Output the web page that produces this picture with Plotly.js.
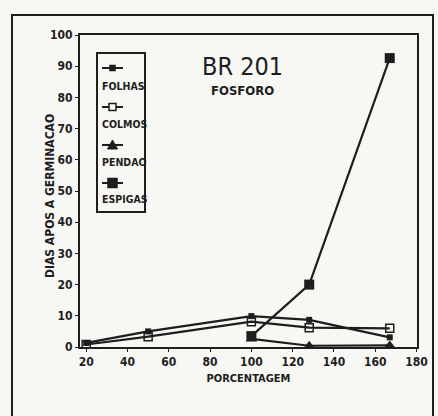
<!DOCTYPE html>
<html>
<head>
<meta charset="utf-8">
<script src="https://cdn.plot.ly/plotly-3.0.1.min.js"></script>
<style>
html,body{margin:0;padding:0;background:#f7f7f4;}
#chart{width:438px;height:416px;}
</style>
</head>
<body>
<div id="chart"></div>
<script>
// Data
const xPct = [20, 50, 100, 128, 167];
const folhas = [1.3, 5.0, 9.9, 8.7, 3.1];
const colmos = [0.8, 3.3, 8.1, 6.2, 6.0];
const pendaoX = [100, 128, 167];
const pendao = [2.6, 0.4, 0.5];
const espigasX = [100, 128, 167];
const espigas = [3.5, 20, 92.6];
const seriesNames = ["FOLHAS", "COLMOS", "PENDAO", "ESPIGAS"];
const xTicks = [20, 40, 60, 80, 100, 120, 140, 160, 180];
const yTicks = [0, 10, 20, 30, 40, 50, 60, 70, 80, 90, 100];

const ink = "#1e1e1e";
const fam = "Liberation Sans Narrow, DejaVu Sans Condensed, Arial Narrow, sans-serif";
const line = {color: ink, width: 2.2};

const traces = [
  {x: xPct, y: folhas, name: seriesNames[0], mode: "lines+markers", line: line,
   marker: {symbol: "square", size: 6, color: ink}},
  {x: xPct, y: colmos, name: seriesNames[1], mode: "lines+markers", line: line,
   marker: {symbol: "square-open", size: 8, color: ink, line: {width: 1.5, color: ink}}},
  {x: pendaoX, y: pendao, name: seriesNames[2], mode: "lines+markers", line: line,
   marker: {symbol: "triangle-up", size: 10, color: ink}},
  {x: espigasX, y: espigas, name: seriesNames[3], mode: "lines+markers", line: line,
   marker: {symbol: "square", size: 10, color: ink}}
];

// Plot area in px: x 80..417, y 35..347
const L = 80, R = 417, T = 35, B = 347;
const px = v => (v - L) / (R - L);
const py = v => (B - v) / (B - T);

const shapes = [
  // outer frame
  {type: "rect", xref: "paper", yref: "paper", x0: px(12), x1: px(433), y0: py(425), y1: py(15),
   line: {color: ink, width: 2}},
  // legend box
  {type: "rect", xref: "paper", yref: "paper", x0: px(97), x1: px(145), y0: py(212), y1: py(53),
   line: {color: ink, width: 2}}
];
const annotations = [
  {xref: "paper", yref: "paper", x: px(242), y: py(66), text: "BR 201", showarrow: false,
   font: {family: fam, size: 25, color: ink}, xanchor: "center", yanchor: "middle"},
  {xref: "paper", yref: "paper", x: px(242), y: py(90), text: "FOSFORO", showarrow: false,
   font: {family: fam, size: 13, color: ink, weight: "bold"}, xanchor: "center", yanchor: "middle"},
  {xref: "paper", yref: "paper", x: px(50), y: py(196), text: "DIAS APOS A GERMINACAO", showarrow: false,
   textangle: -90, font: {family: fam, size: 12, color: ink, weight: "bold"}, xanchor: "center", yanchor: "middle"}
];
const symY = [68, 107, 145, 183];
const txtY = [86, 124, 162, 199];
seriesNames.forEach((n, i) => {
  shapes.push({type: "line", xref: "paper", yref: "paper", x0: px(102), x1: px(123), y0: py(symY[i]), y1: py(symY[i]),
    line: {color: ink, width: 2}});
  annotations.push({xref: "paper", yref: "paper", x: px(100), y: py(txtY[i]), text: n, showarrow: false,
    xanchor: "left", yanchor: "middle", font: {family: fam, size: 10.5, color: ink, weight: "bold"}});
});
// legend glyph markers
const sq = (cx, cy, h, fill) => ({type: "rect", xref: "paper", yref: "paper", x0: px(cx - h), x1: px(cx + h),
  y0: py(cy + h), y1: py(cy - h), fillcolor: fill ? ink : "#f7f7f4", line: {color: ink, width: 1.5}});
shapes.push(sq(112.5, symY[0], 2.5, true));
shapes.push(sq(112.5, symY[1], 3.5, false));
shapes.push({type: "path", xref: "paper", yref: "paper",
  path: `M ${px(107.5)} ${py(symY[2] + 4)} L ${px(117.5)} ${py(symY[2] + 4)} L ${px(112.5)} ${py(symY[2] - 5)} Z`,
  fillcolor: ink, line: {color: ink, width: 1}});
shapes.push(sq(112.5, symY[3], 4.5, true));

const layout = {
  width: 438, height: 416,
  margin: {l: L, r: 438 - R, t: T, b: 416 - B},
  paper_bgcolor: "#f7f7f4", plot_bgcolor: "#f7f7f4",
  showlegend: false,
  font: {family: fam, color: ink, size: 12},
  xaxis: {range: [17, 180.2], tickvals: xTicks, ticktext: xTicks.map(String),
    showgrid: false, zeroline: false, showline: true, mirror: true, linecolor: ink, linewidth: 2,
    ticks: "outside", ticklen: 3, tickcolor: ink,
    tickfont: {family: fam, size: 12, color: ink, weight: "bold"},
    title: {text: "PORCENTAGEM", font: {family: fam, size: 11, color: ink, weight: "bold"}, standoff: 6}},
  yaxis: {range: [0, 100], tickvals: yTicks, ticktext: yTicks.map(String),
    showgrid: false, zeroline: false, showline: true, mirror: true, linecolor: ink, linewidth: 2,
    ticks: "outside", ticklen: 3, tickcolor: ink,
    tickfont: {family: fam, size: 12, color: ink, weight: "bold"}},
  shapes: shapes,
  annotations: annotations
};

Plotly.newPlot("chart", traces, layout, {displayModeBar: false, staticPlot: true});
</script>
</body>
</html>
